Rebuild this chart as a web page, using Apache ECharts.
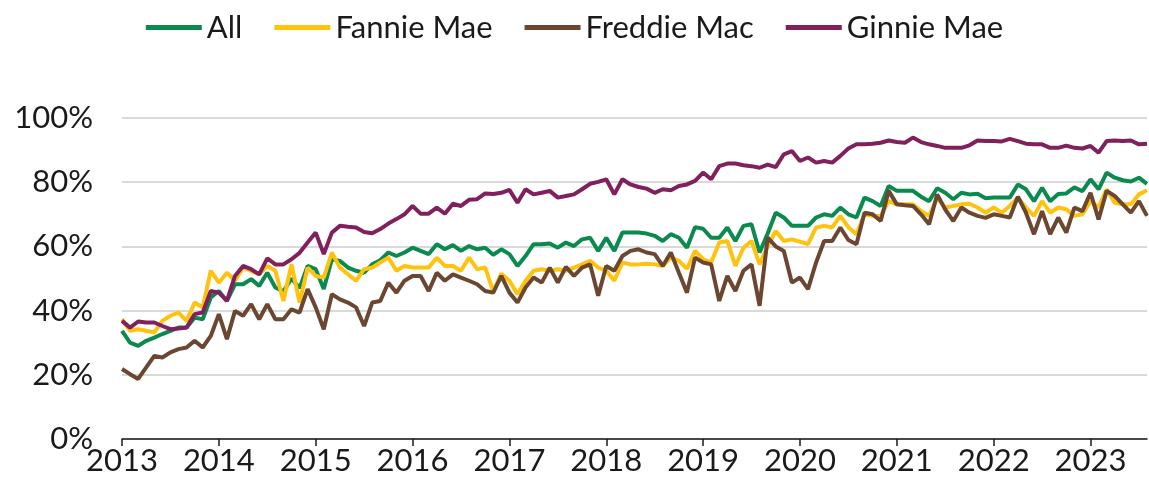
<!DOCTYPE html>
<html>
<head>
<meta charset="utf-8">
<script src="https://cdn.jsdelivr.net/npm/echarts@6/dist/echarts.min.js"></script>
<style>
  html, body { margin: 0; padding: 0; background: #fff; }
  #chart { width: 1149px; height: 498px; }
</style>
</head>
<body>
<div id="chart"></div>
<script>
// monthly, Jan 2013 - Aug 2023
const months = []
for (let y = 2013; y <= 2023; y++) {
  for (let m = 1; m <= 12; m++) {
    if (y === 2023 && m > 8) break
    months.push(`${y}-${String(m).padStart(2, '0')}`)
  }
}

const yTicks = [0, 20, 40, 60, 80, 100]
const legendNames = ['All', 'Fannie Mae', 'Freddie Mac', 'Ginnie Mae']
const colors = ['#0A8A4E', '#FFC20F', '#6B4630', '#80205C']

const allSeries = [
  33.7, 30, 29, 30.6, 31.6, 32.7, 33.7, 34.7, 34.7, 37.8, 37.3, 44.1,
  46.1, 43, 48.2, 48.2, 49.8, 47.7, 51.8, 47.2, 46, 50, 47, 53.9,
  52.9, 46.7, 56, 55.5, 53.4, 52.4, 51.8, 54.4, 55.7, 58.1, 57, 58.1,
  59.6, 58.6, 57.6, 60.7, 59.1, 60.4, 58.6, 60.1, 59.1, 59.6, 57.4, 59.1,
  57.6, 53.9, 57, 60.7, 60.7, 60.9, 59.6, 61.2, 60.1, 62.2, 62.7, 58.6,
  62.7, 58.6, 64.3, 64.3, 64.3, 64, 63.3, 61.7, 63.8, 62.7, 59.6, 66,
  65.5, 62.7, 62.7, 65.9, 61.7, 66.4, 66.9, 58.1, 64, 70.5, 69, 66.4,
  66.4, 66.4, 69, 70, 69.5, 72.1, 70, 69, 75.2, 74.1, 72.6, 78.8,
  77.3, 77.3, 77.3, 75.5, 74.1, 78.1, 76.7, 74.7, 76.7, 76.2, 76.4, 75,
  75.2, 75.2, 75.2, 79.3, 77.8, 74.1, 78.3, 74.1, 76.3, 76.5, 78.4, 77.2,
  80.9, 77.8, 83, 81.4, 80.6, 80.2, 81.4, 79.5
]

const fannie = [
  37.3, 33.7, 34.2, 33.7, 33.2, 36.8, 38.4, 39.4, 36.8, 42.5, 41, 52.4,
  48.7, 51.8, 49.3, 53.4, 52.4, 51.3, 53.9, 52.4, 43, 54.4, 42.5, 53.4,
  50.8, 50.3, 58.1, 53.4, 51.3, 49.3, 52.9, 53.4, 55, 56.5, 52.4, 53.9,
  53.4, 53.4, 53.4, 56.5, 53.9, 53.9, 52.4, 56.5, 52.9, 53.4, 46, 51.5,
  49.3, 45.1, 49.3, 52.4, 52.9, 52.4, 52.9, 52.4, 53.4, 54.4, 55.5, 53.4,
  52.4, 49.3, 55, 54.4, 54.4, 54.6, 54.4, 53.9, 56.5, 55.5, 53, 58.6,
  56, 55, 61.2, 61.7, 53.9, 59.6, 61.7, 54.4, 60, 64.8, 61.7, 62.2,
  61.5, 60.7, 65.9, 66.4, 65.9, 69.5, 66, 63.8, 70, 69.5, 69.5, 74.1,
  73.1, 73.1, 73.1, 71, 69.5, 75, 72.1, 72.6, 73.1, 73.3, 72.1, 70.5,
  72.1, 70.5, 72.6, 75.2, 72.1, 69.5, 74.1, 70.5, 72.1, 71.6, 69.5, 70,
  74.1, 72.1, 77.8, 73.6, 73.1, 73.1, 76.2, 77.5
]

const freddie = [
  21.8, 20.2, 18.7, 22.3, 25.9, 25.4, 27, 28, 28.5, 30.6, 28.5, 32.1,
  38.9, 31.1, 39.9, 38.4, 42, 37.3, 42, 37.3, 37.3, 40.4, 39.4, 46.7,
  41, 34.2, 45.1, 43.5, 42.5, 41, 35.2, 42.5, 43, 48.7, 45.6, 49.3,
  50.8, 50.8, 46.1, 51.8, 49.3, 51.3, 50.3, 49.3, 48.2, 46.1, 45.6, 50.8,
  45.6, 42.5, 47.2, 50.3, 48.7, 53.4, 48.7, 53.6, 50.8, 53.4, 54.4, 44.6,
  53.9, 52.4, 57, 58.6, 59.1, 58.1, 57.6, 53.9, 58.1, 51.8, 45.6, 56.5,
  55, 54.4, 43, 50.8, 46.1, 52.4, 54.4, 41.5, 62.7, 60, 58.6, 48.7,
  50.3, 46.7, 55, 61.7, 61.7, 65.9, 62, 60.7, 70.5, 70, 67.9, 77.3,
  73.1, 72.8, 72.6, 70, 66.9, 76.2, 71.5, 67.9, 72.1, 70.5, 69.5, 68.9,
  70, 69.5, 69, 75.5, 70.5, 63.8, 71, 63.8, 69, 64.3, 72.1, 71,
  76.7, 68.4, 77.3, 75.7, 73.1, 70.5, 74.1, 69.5
]

const ginnie = [
  36.8, 34.7, 36.6, 36.3, 36.3, 35.2, 34.2, 34.4, 34.7, 38.9, 39.4, 46.1,
  45.6, 43, 50.8, 53.9, 52.9, 51.3, 56.3, 54.4, 54.4, 56, 58, 61.2,
  64.3, 57.6, 64.3, 66.4, 66.1, 65.9, 64.5, 64.1, 65.4, 67.1, 68.5, 70,
  72.6, 70.2, 70.2, 72.1, 70.2, 73.3, 72.6, 74.5, 74.7, 76.5, 76.3, 76.7,
  77.6, 73.6, 77.8, 76.2, 76.7, 77.3, 75.2, 75.7, 76.2, 77.8, 79.5, 80.1,
  80.9, 76.2, 80.9, 79.3, 78.5, 78, 76.7, 77.8, 77.5, 78.8, 79.3, 80.4,
  83, 80.9, 85, 85.8, 85.8, 85.3, 85, 84.5, 85.5, 84.7, 88.7, 89.7,
  86.6, 87.7, 86.1, 86.6, 86.1, 88.2, 90.5, 91.8, 91.8, 92, 92.3, 93,
  92.5, 92.3, 93.9, 92.5, 91.8, 91.3, 90.7, 90.7, 90.7, 91.5, 93, 92.8,
  92.8, 92.7, 93.5, 92.8, 92, 91.8, 91.8, 90.7, 90.7, 91.4, 90.7, 90.5,
  91.3, 89.2, 92.8, 93, 92.8, 93, 91.8, 92
]

const seriesData = [allSeries, fannie, freddie, ginnie]

const chart = echarts.init(document.getElementById('chart'))

// ticks and labels only at January
const isJan = (idx) => idx % 12 === 0

const option = {
  animation: false,
  backgroundColor: '#fff',
  color: colors,
  legend: {
    top: 7,
    left: 'center',
    icon: 'rect',
    itemWidth: 56,
    itemHeight: 5,
    itemGap: 32,
    textStyle: { fontFamily: 'Lato', fontSize: 31, color: '#1a1a1a' },
    data: legendNames,
  },
  grid: { left: 122, right: 2, top: 118, bottom: 59 },
  xAxis: {
    type: 'category',
    data: months,
    boundaryGap: false,
    axisLine: { lineStyle: { color: '#1a1a1a', width: 1.5 } },
    axisTick: { interval: (idx) => isJan(idx), length: 7, lineStyle: { color: '#1a1a1a', width: 1.5 } },
    axisLabel: {
      interval: (idx) => isJan(idx),
      formatter: (v) => v.slice(0, 4),
      fontFamily: 'Lato',
      fontSize: 31,
      color: '#1a1a1a',
      margin: 6,
    },
    splitLine: { show: false },
  },
  yAxis: {
    type: 'value',
    min: yTicks[0],
    max: yTicks[yTicks.length - 1],
    interval: 20,
    axisLine: { show: false },
    axisTick: { show: false },
    axisLabel: {
      formatter: '{value}%',
      fontFamily: 'Lato',
      fontSize: 31,
      color: '#1a1a1a',
      margin: 29,
    },
    splitLine: { lineStyle: { color: '#d9d9d9', width: 2 } },
  },
  series: legendNames.map((name, i) => ({
    name,
    type: 'line',
    data: seriesData[i],
    symbol: 'none',
    lineStyle: { width: 4, color: colors[i] },
  })),
}

chart.setOption(option)
</script>
</body>
</html>
